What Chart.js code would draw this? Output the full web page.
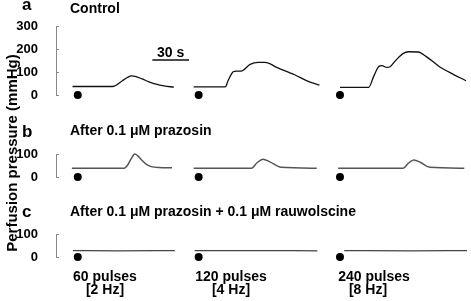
<!DOCTYPE html>
<html>
<head>
<meta charset="utf-8">
<script src="https://cdn.jsdelivr.net/npm/chart.js@4"></script>
<style>
  body { margin: 0; background: #fff; }
  #fig { position: relative; width: 471px; height: 301px; overflow: hidden; font-family: "Liberation Sans", Arial, sans-serif; font-weight: bold; color: #000; }
  #fig canvas { position: absolute; left: 0; }
  .t { position: absolute; white-space: nowrap; line-height: 1; }
  .c { transform: translateX(-50%); }
</style>
</head>
<body>
<div id="fig">
  <canvas id="pa" width="471" height="115" style="top:0px"></canvas>
  <canvas id="pb" width="471" height="87" style="top:110px"></canvas>
  <canvas id="pc" width="471" height="82" style="top:195px"></canvas>

  <div class="t" style="left:11px;top:153px;font-size:15px;transform:translate(-50%,-50%) rotate(-90deg)">Perfusion pressure (mmHg)</div>

  <div class="t" style="left:22px;top:-4px;font-size:17px">a</div>
  <div class="t" style="left:70px;top:1px;font-size:14px">Control</div>
  <div class="t" style="left:22px;top:123px;font-size:17px">b</div>
  <div class="t" style="left:70px;top:123px;font-size:14px">After 0.1 μM prazosin</div>
  <div class="t" style="left:22px;top:203px;font-size:17px">c</div>
  <div class="t" style="left:70px;top:204px;font-size:14px">After 0.1 μM prazosin + 0.1 μM rauwolscine</div>

  <div class="t c" style="left:105px;top:269px;font-size:14px">60 pulses</div>
  <div class="t c" style="left:105px;top:282px;font-size:14px">[2 Hz]</div>
  <div class="t c" style="left:231px;top:269px;font-size:14px">120 pulses</div>
  <div class="t c" style="left:231px;top:282px;font-size:14px">[4 Hz]</div>
  <div class="t c" style="left:374px;top:269px;font-size:14px">240 pulses</div>
  <div class="t c" style="left:368px;top:282px;font-size:14px">[8 Hz]</div>
</div>
<script>
// time in seconds, pressure in mmHg
const timeMax = 336.5;
const stimTimes = [17.8, 116.8, 232.5];
const stimVals = [0, 0, 0];

// panel a: control
const a1T = [13.5, 46.2, 50.3, 54.3, 58.4, 61.6, 64.9, 70.5, 76.2, 82.7, 88.4, 96.5];
const a1V = [37, 37, 46, 62, 76, 83, 81, 70, 57, 46, 40, 34];
const a2T = [112.7, 138.6, 141.1, 145.1, 147.6, 151.6, 158.9, 165.4, 171.1, 181.6, 195.4, 206.0, 215.7];
const a2V = [35, 35, 65, 101, 104, 104, 133, 142, 142, 118, 88, 60, 43];
const a3T = [232.5, 256.0, 260.0, 264.1, 266.8, 270.8, 273.5, 278.9, 284.4, 288.4, 296.5, 303.2, 314.0, 324.9, 335.7];
const a3V = [33, 33, 80, 123, 128, 120, 123, 155, 181, 188, 187, 167, 123, 91, 62];

// panel b: after prazosin
const b1T = [13, 56, 58.4, 61.6, 64.5, 67, 70.5, 74, 78, 84, 95];
const b1V = [38, 38, 50, 80, 100, 92, 72, 55, 45, 41, 40];
const b2T = [112.7, 160, 164.6, 169.5, 175, 184.3, 213.5];
const b2V = [38, 38, 62, 77, 66, 42, 38];
const b3T = [231, 284.3, 288.5, 293, 298.5, 306, 334.3];
const b3V = [38, 38, 60, 74, 63, 42, 38];

// panel c: after prazosin + rauwolscine
const c1T = [13.8, 50, 97.3];
const c1V = [28, 27, 28];
const c2T = [113.5, 160, 214];
const c2V = [28, 28, 27];
const c3T = [236, 290, 336.5];
const c3V = [28, 27, 28];

// 30 s scale bar (panel a)
const barT = [78.9, 108.9];
const barV = [152, 152];

const pts = (t, v) => t.map((x, i) => ({x: x, y: v[i]}));

const trace = (t, v, color, w) => ({
  type: 'line', data: pts(t, v), borderColor: color, borderWidth: w,
  pointRadius: 0, cubicInterpolationMode: 'monotone', clip: false
});
const dots = () => ({
  type: 'scatter', data: pts(stimTimes, stimVals), pointRadius: 4,
  pointBackgroundColor: '#000', pointBorderWidth: 0, clip: false
});

// short inward ticks on the y axis
const inTicks = {
  id: 'inTicks',
  afterDraw(chart) {
    const s = chart.scales.y, ctx = chart.ctx;
    ctx.save();
    ctx.strokeStyle = '#888';
    ctx.lineWidth = 1;
    s.ticks.forEach(tk => {
      const y = Math.round(s.getPixelForValue(tk.value)) + 0.5;
      ctx.beginPath();
      ctx.moveTo(s.right, y);
      ctx.lineTo(s.right + 3, y);
      ctx.stroke();
    });
    ctx.restore();
  }
};

const barLabel = {
  id: 'barLabel',
  afterDraw(chart) {
    if (chart.canvas.id !== 'pa') return;
    const x = chart.scales.x, y = chart.scales.y, ctx = chart.ctx;
    ctx.save();
    ctx.font = 'bold 14px "Liberation Sans", Arial, sans-serif';
    ctx.fillStyle = '#000';
    ctx.textAlign = 'center';
    ctx.textBaseline = 'alphabetic';
    ctx.fillText('30 s', x.getPixelForValue((barT[0] + barT[1]) / 2), y.getPixelForValue(barV[0]) - 3);
    ctx.restore();
  }
};

function makePanel(id, sets, yMax, pad) {
  return new Chart(document.getElementById(id), {
    data: { datasets: sets },
    options: {
      responsive: false, animation: false,
      layout: { padding: { top: pad[0], bottom: pad[1], left: 0, right: 0 } },
      plugins: { legend: { display: false }, tooltip: { enabled: false } },
      scales: {
        x: { type: 'linear', min: 0, max: timeMax, display: false },
        y: {
          min: 0, max: yMax,
          afterFit(s) { s.width = 56; },
          grid: { display: false },
          border: { display: true, color: '#888', width: 1 },
          ticks: { stepSize: 100, padding: 10, autoSkip: false, color: '#000',
                   font: { family: '"Liberation Sans", Arial, sans-serif', size: 13, weight: 'bold' } }
        }
      }
    },
    plugins: [inTicks, barLabel]
  });
}

makePanel('pa', [
  trace(a1T, a1V, '#111', 1.3), trace(a2T, a2V, '#111', 1.3), trace(a3T, a3V, '#111', 1.3),
  trace(barT, barV, '#111', 1.6), dots()
], 300, [26, 20]);

makePanel('pb', [
  trace(b1T, b1V, '#555', 1.5), trace(b2T, b2V, '#555', 1.5), trace(b3T, b3V, '#555', 1.5), dots()
], 100, [44, 20]);

makePanel('pc', [
  trace(c1T, c1V, '#444', 1.2), trace(c2T, c2V, '#444', 1.2), trace(c3T, c3V, '#444', 1.2), dots()
], 100, [39, 20]);
</script>
</body>
</html>
